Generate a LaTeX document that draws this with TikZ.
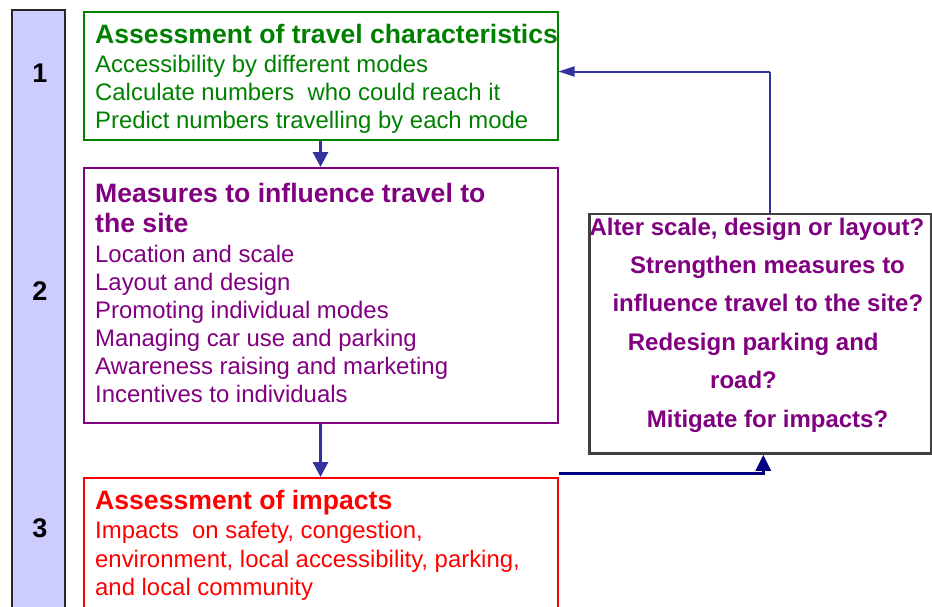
\documentclass[tikz,border=0pt]{standalone}
\usepackage{xcolor}
\usepackage{fontspec}
\setmainfont{Liberation Sans}
\usepackage{tikz}
\usetikzlibrary{positioning, calc, arrows.meta}

\definecolor{stagegreen}{RGB}{0,128,0}
\definecolor{stagepurple}{RGB}{128,0,128}
\definecolor{stagered}{RGB}{255,0,0}
\definecolor{barfill}{RGB}{204,204,255}
\definecolor{linkblue}{RGB}{51,51,160}
\definecolor{linknavy}{RGB}{0,0,128}
\definecolor{boxgrey}{RGB}{64,64,64}

\tikzset{
	stagebox/.style={draw, line width=2pt, anchor=north west, inner sep=0pt, minimum width=474pt},
	headtext/.style={anchor=base west, inner sep=0pt, font=\fontsize{26.6}{30}\selectfont\bfseries},
	bodytext/.style={anchor=base west, inner sep=0pt, font=\fontsize{23.9}{28}\selectfont},
	asktext/.style={anchor=base west, inner sep=0pt, text=stagepurple, font=\fontsize{24}{28}\selectfont\bfseries},
	stepnum/.style={anchor=base, inner sep=0pt, font=\fontsize{27}{30}\selectfont\bfseries},
	downlink/.style={draw=linkblue, line width=3pt, -{Triangle[length=15pt,width=15pt]}}
}

\begin{document}
\begin{tikzpicture}[x=1pt, y=-1pt]
		
		\clip (0,0) rectangle (932,606);
		
		%//stage bar on the left
		\draw[fill=barfill, draw=black!85, line width=1.5pt] (12,10) rectangle (65,640);
		\foreach \y/\n in {82/1, 300.5/2, 537/3}
		\node[stepnum] (num\n) at (40,\y) {\n};
		
		%//stage 1
		\node[stagebox, draw=stagegreen, minimum height=127.5pt] (travel) at (82.5,11) {};
		\node[headtext, text=stagegreen] (travel-head) at (95,43.5) {Assessment of travel characteristics};
		\foreach \txt [count=\i] in {Accessibility by different modes, Calculate numbers\ \ who could reach it, Predict numbers travelling by each mode}
		\node[bodytext, text=stagegreen] (travel-\i) at (95,44.5+28*\i) {\txt};
		
		%//stage 2
		\node[stagebox, draw=stagepurple, minimum height=255pt] (measures) at (82.5,167) {};
		\node[headtext, text=stagepurple] (measures-head) at (95,202.5) {Measures to influence travel to};
		\node[headtext, text=stagepurple] (measures-head2) at (95,232.5) {the site};
		\foreach \txt [count=\i] in {Location and scale, Layout and design, Promoting individual modes, Managing car use and parking, Awareness raising and marketing, Incentives to individuals}
		\node[bodytext, text=stagepurple] (measures-\i) at (95,234.5+28*\i) {\txt};
		
		%//stage 3
		\node[stagebox, draw=stagered, minimum height=163pt] (impacts) at (82.5,477) {};
		\node[headtext, text=stagered] (impacts-head) at (95,509.5) {Assessment of impacts};
		\foreach \txt [count=\i] in {{Impacts\ \ on safety, congestion,}, {environment, local accessibility, parking,}, and local community}
		\node[bodytext, text=stagered] (impacts-\i) at (95,510.5+28.3*\i) {\txt};
		
		%//questions box
		\node[draw=boxgrey, line width=2.5pt, anchor=north west, inner sep=0pt, minimum width=341.7pt, minimum height=239.8pt] (fix) at (588.3,212.5) {};
		\foreach \x/\y/\txt [count=\i] in {589.3/235/{Alter scale, design or layout?}, 630/273/Strengthen measures to, 612.3/311/influence travel to the site?, 627.7/350/Redesign parking and, 710/388/road?, 646.7/427/Mitigate for impacts?}
		\node[asktext] (ask-\i) at (\x,\y) {\txt};
		
		%//arrows
		\draw[downlink] (travel.south) -- (measures.north);
		\draw[downlink] (measures.south) -- (impacts.north);
		
		\coordinate (turn) at (770,71.5);
		\draw[draw=linkblue, line width=2.5pt] (fix.north -| turn) -- (turn);
		\draw[draw=linkblue, line width=2pt, -{Triangle[length=16pt,width=10pt]}] (turn) -- (travel.east |- turn);
		
		\coordinate (rise) at (763.3,473.3);
		\draw[draw=linknavy, line width=2.5pt, -{Triangle[length=16pt,width=15pt]}] (impacts.north east |- rise) -- (rise) -- (fix.south -| rise);
		
\end{tikzpicture}
\end{document}
